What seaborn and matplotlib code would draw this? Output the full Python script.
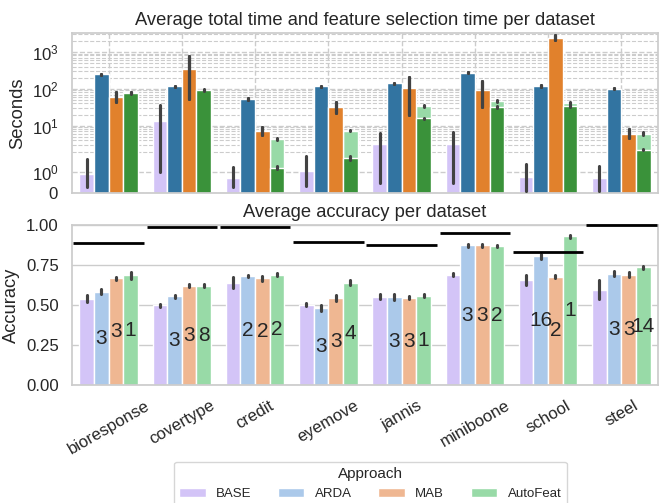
import numpy as np
import pandas as pd
import seaborn as sns
import matplotlib.pyplot as plt
from matplotlib.ticker import SymmetricalLogLocator

datasets = ['bioresponse', 'covertype', 'credit', 'eyemove', 'jannis', 'miniboone', 'school', 'steel']
approaches = ['BASE', 'ARDA', 'MAB', 'AutoFeat']

# total run time in seconds (mean, lower / upper end of the error bar)
total_time = {
    'BASE': [0.9, 13.6, 0.71, 1.03, 3.2, 3.3, 0.74, 0.69],
    'ARDA': [249, 116, 54, 116, 143, 270, 119, 100],
    'MAB': [61, 340, 7.3, 31.8, 105, 92.6, 2316, 6.1],
    'AutoFeat': [80, 93, 4.4, 7.3, 34.4, 47.8, 40.6, 6.1],
}
total_lo = {
    'BASE': [0.26, 0.98, 0.26, 0.32, 0.45, 0.45, 0.06, 0.06],
    'ARDA': [242, 112, 51, 112, 138, 262, 115, 97],
    'MAB': [45, 53, 5.7, 22, 19.7, 31.8, 2046, 4.7],
    'AutoFeat': [77, 90, 4.2, 7.0, 32, 45, 38, 5.6],
}
total_hi = {
    'BASE': [1.66, 36.7, 1.27, 1.76, 6.5, 6.8, 1.4, 1.3],
    'ARDA': [256, 120, 57, 120, 148, 278, 123, 103],
    'MAB': [83, 760, 9.2, 43, 207, 165, 2840, 8.3],
    'AutoFeat': [83, 96, 4.6, 7.6, 37, 51, 43, 6.6],
}

# feature selection time in seconds
fs_time = {
    'BASE': [0, 0, 0, 0, 0, 0, 0, 0],
    'ARDA': [249, 116, 54, 116, 143, 270, 119, 100],
    'MAB': [61, 340, 7.3, 31.8, 105, 92.6, 2316, 6.1],
    'AutoFeat': [77, 92, 1.22, 1.69, 15.7, 31.8, 34.4, 2.26],
}
fs_lo = {
    'BASE': [0, 0, 0, 0, 0, 0, 0, 0],
    'ARDA': [242, 112, 51, 112, 138, 262, 115, 97],
    'MAB': [45, 53, 5.7, 22, 19.7, 31.8, 2046, 4.7],
    'AutoFeat': [74, 89, 1.15, 1.6, 15, 30, 32.5, 2.15],
}
fs_hi = {
    'BASE': [0, 0, 0, 0, 0, 0, 0, 0],
    'ARDA': [256, 120, 57, 120, 148, 278, 123, 103],
    'MAB': [83, 760, 9.2, 43, 207, 165, 2840, 8.3],
    'AutoFeat': [80, 95, 1.3, 1.8, 16.5, 33.5, 36.5, 2.4],
}

accuracy = {
    'BASE': [0.541, 0.499, 0.640, 0.503, 0.553, 0.690, 0.658, 0.597],
    'ARDA': [0.585, 0.555, 0.684, 0.482, 0.549, 0.874, 0.805, 0.698],
    'MAB': [0.667, 0.621, 0.667, 0.545, 0.547, 0.874, 0.679, 0.690],
    'AutoFeat': [0.686, 0.621, 0.692, 0.640, 0.560, 0.870, 0.931, 0.736],
}
accuracy_err = {
    'BASE': [0.02, 0.008, 0.035, 0.01, 0.015, 0.01, 0.03, 0.06],
    'ARDA': [0.015, 0.008, 0.008, 0.02, 0.018, 0.008, 0.015, 0.015],
    'MAB': [0.008, 0.01, 0.015, 0.02, 0.01, 0.008, 0.012, 0.015],
    'AutoFeat': [0.02, 0.01, 0.01, 0.015, 0.008, 0.008, 0.008, 0.012],
}
# number of selected features written in the bars
n_features = {
    'ARDA': [3, 3, 2, 3, 3, 3, 16, 3],
    'MAB': [3, 3, 2, 3, 3, 3, 2, 3],
    'AutoFeat': [1, 8, 2, 4, 1, 2, 1, 14],
}
# accuracy with all features (black lines)
all_features_acc = [0.889, 0.992, 0.992, 0.895, 0.879, 0.952, 0.835, 1.0]

rows = []
for a in approaches:
    for i, d in enumerate(datasets):
        rows.append({'dataset': d, 'approach': a, 'total': total_time[a][i],
                     'fs': fs_time[a][i], 'accuracy': accuracy[a][i]})
df = pd.DataFrame(rows)

sns.set_theme(style='whitegrid', font_scale=1.1)
plt.rcParams['font.family'] = ['Liberation Sans', 'DejaVu Sans']
plt.rcParams['mathtext.fontset'] = 'custom'
plt.rcParams['mathtext.rm'] = 'Liberation Sans'
plt.rcParams['mathtext.it'] = 'Liberation Sans:italic'

pastel = sns.color_palette('pastel')
light = [pastel[4], pastel[0], pastel[1], pastel[2]]
dark = [pastel[4], '#1f77b4', '#ff7f0e', '#2ca02c']


def add_errorbars(ax, containers, lo, hi):
    for bars, a in zip(containers, approaches):
        for bar, l, h in zip(bars, lo[a], hi[a]):
            x = bar.get_x() + bar.get_width() / 2
            ax.plot([x, x], [l, h], color='.26', lw=2.25, solid_capstyle='round', zorder=3)


fig, (ax1, ax2) = plt.subplots(2, 1, figsize=(6.6, 5.03))
fig.subplots_adjust(left=0.109, right=0.997, top=0.934, bottom=0.235, hspace=0.206)

# top: total time (light) with feature selection time (dark) on top
sns.barplot(data=df, x='dataset', y='total', hue='approach', palette=light,
            errorbar=None, legend=False, ax=ax1)
add_errorbars(ax1, ax1.containers[-4:], total_lo, total_hi)
sns.barplot(data=df, x='dataset', y='fs', hue='approach', palette=dark,
            errorbar=None, legend=False, ax=ax1)
add_errorbars(ax1, ax1.containers[-4:], fs_lo, fs_hi)
ax1.set_yscale('symlog')
ax1.yaxis.set_minor_locator(SymmetricalLogLocator(base=10, linthresh=2, subs=np.arange(2, 10)))
ax1.set_ylim(0, 3200)
ax1.set_xlim(-0.5, len(datasets) - 0.5)
ax1.grid(True, which='both', linestyle='--')
ax1.grid(True, which='minor', axis='y', linestyle='--', linewidth=0.8)
ax1.set_xticklabels([])
ax1.set_xlabel('')
ax1.set_ylabel('Seconds')
ax1.set_title('Average total time and feature selection time per dataset')

# bottom: accuracy
sns.barplot(data=df, x='dataset', y='accuracy', hue='approach', palette=light,
            errorbar=None, ax=ax2)
acc_lo = {a: [m - e for m, e in zip(accuracy[a], accuracy_err[a])] for a in approaches}
acc_hi = {a: [m + e for m, e in zip(accuracy[a], accuracy_err[a])] for a in approaches}
add_errorbars(ax2, ax2.containers, acc_lo, acc_hi)
for bars, a in zip(ax2.containers[1:], approaches[1:]):
    ax2.bar_label(bars, labels=[str(n) for n in n_features[a]], label_type='center', fontsize=15)
for i, v in enumerate(all_features_acc):
    ax2.hlines(v, i - 0.48, i + 0.48, color='black', lw=2, clip_on=False, zorder=4)
ax2.set_ylim(0, 1)
ax2.set_xlim(-0.5, len(datasets) - 0.5)
ax2.set_yticks([0, 0.25, 0.5, 0.75, 1.0])
ax2.set_xlabel('')
ax2.set_ylabel('Accuracy')
ax2.set_title('Average accuracy per dataset')
ax2.tick_params(axis='x', rotation=30)

handles, labels = ax2.get_legend_handles_labels()
ax2.get_legend().remove()
fig.legend(handles, labels, loc='upper center', bbox_to_anchor=(0.561, 0.095), ncol=4,
           title='Approach', fontsize=9.5, title_fontsize=11)

fig.savefig('out.png', dpi=100)
